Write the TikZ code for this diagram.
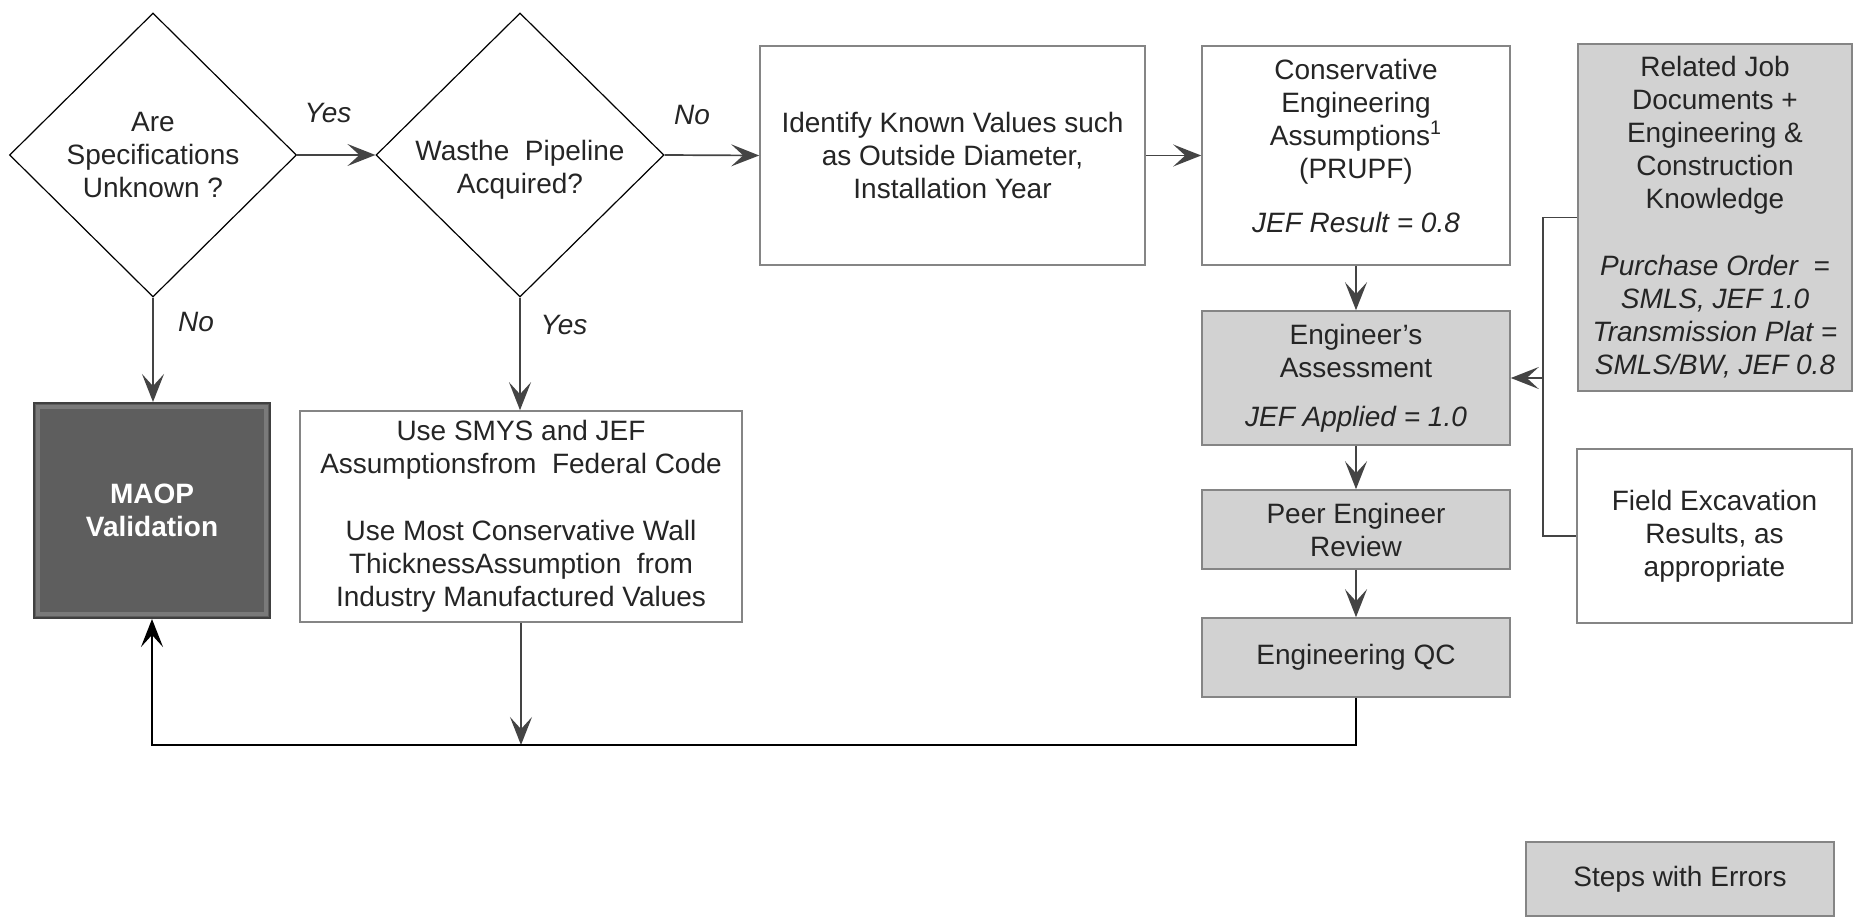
\documentclass[tikz,border=0pt]{standalone}
\usepackage{fontspec}
\setmainfont{Liberation Sans}
\usetikzlibrary{shapes.geometric,arrows.meta}
\definecolor{txt}{HTML}{252525}
\definecolor{bord}{HTML}{858585}
\definecolor{errfill}{HTML}{D2D2D2}
\definecolor{conn}{HTML}{444444}
\definecolor{maopfill}{HTML}{5E5E5E}
\definecolor{maopedge}{HTML}{7A7A7A}
\begin{document}
\begin{tikzpicture}[x=0.5pt,y=-0.5pt,
  every node/.style={font=\fontsize{14}{16.5}\selectfont, text=txt, align=center},
  box/.style={draw=bord, line width=0.8pt, fill=white, inner sep=0pt},
  errbox/.style={box, fill=errfill},
  decision/.style={diamond, draw=black, line width=0.6pt, inner sep=0pt, aspect=1},
  tip/.style={-{Stealth[length=14pt,width=11pt,inset=6pt]}},
  flow/.style={draw=conn, line width=0.85pt, tip},
  plain/.style={draw=conn, line width=0.8pt},
  back/.style={draw=black, line width=1.2pt, -{Stealth[length=14pt,width=11pt,inset=6pt]}},
  lab/.style={font=\itshape\fontsize{14}{16.5}\selectfont}
]
\useasboundingbox (0,0) rectangle (1865,921);

% decisions
\node[decision, minimum width=143.5pt, minimum height=142pt] (d1) at (153,155)
  {Are\\Specifications\\Unknown ?};
\node[decision, minimum width=144pt, minimum height=142pt,
  label={[align=center, yshift=-7.5pt]center:Wasthe\ \ Pipeline\\Acquired?}] (d2) at (520,155) {};

% boxes
\node[box, minimum width=192.5pt, minimum height=109.5pt] (ident) at (952.5,155.5)
  {Identify Known Values such\\as Outside Diameter,\\Installation Year};
\node[box, minimum width=154pt, minimum height=109.5pt,
  label={[align=center, yshift=5pt]center:Conservative\\Engineering\\Assumptions\textsuperscript{1}\\(PRUPF)\\[10.5pt]\textit{JEF Result = 0.8}}] (cons) at (1356,155.5) {};
\node[errbox, minimum width=154pt, minimum height=67pt] (eng) at (1356,378)
  {Engineer's\\Assessment\\[8pt]\textit{JEF Applied = 1.0}};
\node[errbox, minimum width=154pt, minimum height=39.5pt] (peer) at (1356,529.5)
  {Peer Engineer\\Review};
\node[errbox, minimum width=154pt, minimum height=39.5pt] (qc) at (1356,657.5)
  {Engineering QC};
\node[errbox, minimum width=137pt, minimum height=173.5pt] (rel) at (1715,217.5)
  {Related Job\\Documents +\\Engineering \&\\Construction\\Knowledge\\[17pt]\textit{Purchase Order\ \ =}\\\textit{SMLS, JEF 1.0}\\\textit{Transmission Plat =}\\\textit{SMLS/BW, JEF 0.8}};
\node[box, minimum width=137.5pt, minimum height=87pt] (field) at (1714.5,536)
  {Field Excavation\\Results, as\\appropriate};
\node[errbox, minimum width=154pt, minimum height=37pt] (steps) at (1680,879)
  {Steps with Errors};
\node[box, minimum width=221pt, minimum height=105.5pt] (smys) at (521,516.5)
  {Use SMYS and JEF\\Assumptionsfrom\ \ Federal Code\\[17pt]Use Most Conservative Wall\\ThicknessAssumption\ \ from\\Industry Manufactured Values};
\node[draw=black!75, line width=1pt, fill=maopfill, minimum width=118pt, minimum height=107.5pt,
  inner sep=0pt, text=white, font=\bfseries\fontsize{14}{16.5}\selectfont] (maop) at (152,510.5)
  {MAOP\\Validation};
\draw[maopedge, line width=2pt] ([shift={(5,5)}]maop.north west) rectangle ([shift={(-5,-5)}]maop.south east);

% coordinates
\coordinate (fb) at (0,745);
\coordinate (j) at (1543,378);

% connectors
\draw[flow] (d1.east) -- (d2.west) node[lab] at (328,113) {Yes};
\draw[flow] (d2.east) -- (ident.west) node[lab] at (692,115) {No};
\draw[flow] (ident.east) -- (cons.west);
\draw[flow] (cons.south) -- (eng.north);
\draw[flow] (eng.south) -- (peer.north);
\draw[flow] (peer.south) -- (qc.north);
\draw[flow] (d1.south) -- (maop.north -| d1.south) node[lab] at (196,322) {No};
\draw[flow] (d2.south) -- (smys.north -| d2.south) node[lab] at (564,325) {Yes};
\draw[flow] (smys.south) -- (smys.south |- fb);
\draw[back] (qc.south) -- (qc.south |- fb) -| (maop.south);
\draw[plain] (rel.west) -- (rel.west -| j) |- (field.west);
\draw[flow] (j) -- (eng.east);
\end{tikzpicture}
\end{document}
